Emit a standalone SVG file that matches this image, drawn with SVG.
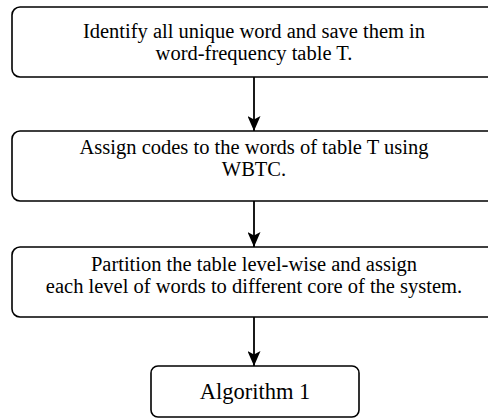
<svg xmlns="http://www.w3.org/2000/svg" width="488" height="418" viewBox="0 0 488 418">
  <style>
    .box { fill: #ffffff; stroke: #000000; stroke-width: 1.6; }
    text { font-family: 'Liberation Serif', 'DejaVu Serif', 'Times New Roman', serif; font-size: 20.5px; fill: #000000; text-anchor: middle; }
    .big { font-size: 22.5px; }
    .edge { stroke: #000000; stroke-width: 1.8; fill: none; }
  </style>
  <defs>
    <marker id="arrow" viewBox="0 0 15 13" refX="15" refY="6.5" markerWidth="15" markerHeight="13" markerUnits="userSpaceOnUse" orient="auto">
      <path d="M0,0 L15,6.5 L0,13 L3.5,6.5 Z" fill="#000000"/>
    </marker>
  </defs>
  <rect width="488" height="418" fill="#ffffff"/>

  <g id="step1">
    <rect class="box" x="12" y="7" width="486" height="70" rx="8" ry="8"/>
    <text x="254" y="38">Identify all unique word and save them in</text>
    <text x="254" y="60">word-frequency table T.</text>
  </g>

  <g id="step2">
    <rect class="box" x="12" y="131" width="486" height="70" rx="8" ry="8"/>
    <text x="254" y="154">Assign codes to the words of table T using</text>
    <text x="254" y="176">WBTC.</text>
  </g>

  <g id="step3">
    <rect class="box" x="12" y="247" width="486" height="70" rx="8" ry="8"/>
    <text x="254" y="271">Partition the table level-wise and assign</text>
    <text x="254" y="293">each level of words to different core of the system.</text>
  </g>

  <g id="algorithm1">
    <rect class="box" x="151" y="366" width="208" height="51" rx="7" ry="7"/>
    <text class="big" x="255" y="399">Algorithm 1</text>
  </g>

  <g id="connectors">
    <line class="edge" x1="254" y1="77" x2="254" y2="131" marker-end="url(#arrow)"/>
    <line class="edge" x1="254" y1="201" x2="254" y2="247" marker-end="url(#arrow)"/>
    <line class="edge" x1="254" y1="317" x2="254" y2="366" marker-end="url(#arrow)"/>
  </g>
</svg>
